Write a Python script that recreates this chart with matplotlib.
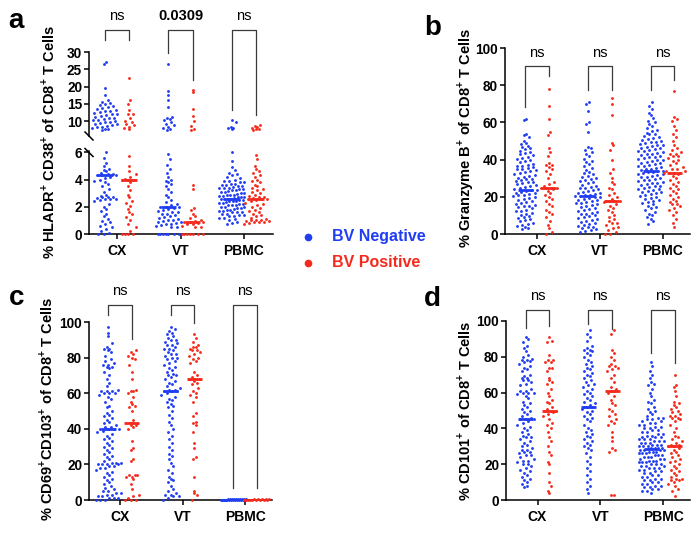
import numpy as np
import matplotlib
matplotlib.use("Agg")
import matplotlib.pyplot as plt
from matplotlib.lines import Line2D
from matplotlib.transforms import blended_transform_factory

plt.rcParams['font.family'] = ['Liberation Sans', 'DejaVu Sans']
plt.rcParams['font.weight'] = 'bold'
plt.rcParams['mathtext.fontset'] = 'custom'
plt.rcParams['mathtext.rm'] = 'Liberation Sans'
plt.rcParams['mathtext.bf'] = 'Liberation Sans:bold'

BLUE = '#1f3df2'
RED = '#f5291c'
GREY = '#3a3a3a'

sites = ['CX', 'VT', 'PBMC']

# ---- panel a: % HLADR+ CD38+ (broken axis) ----
a_cx_neg = [27.2, 26.4, 19.6, 17.5, 16.0, 15.6, 15.2, 14.9, 14.6, 14.3, 14.0, 13.8, 13.5, 13.3,
            13.0, 12.8, 12.6, 12.3, 12.1, 11.9, 11.6, 11.4, 11.2, 11.0, 10.8, 10.6, 10.4, 10.2,
            10.0, 9.8, 9.6, 9.4, 9.2, 9.0, 8.8, 8.6, 8.4, 8.2, 8.0, 7.8, 7.6, 7.4,
            6.0, 5.6, 5.2, 5.0, 4.8, 4.7, 4.6, 4.5, 4.4, 4.4, 4.35, 4.3, 4.3, 4.2, 4.1, 4.0,
            3.9, 3.8, 3.7, 3.5, 3.3, 3.1, 2.9, 2.8, 2.75, 2.7, 2.7, 2.65, 2.6, 2.6, 2.55, 2.5,
            2.4, 2.2, 2.0, 1.85, 1.7, 1.5, 1.3, 1.1, 0.95, 0.85, 0.75, 0.6, 0.5, 0.35, 0.2, 0.1,
            0.0, 0.0]
a_cx_pos = [22.4, 16.1, 15.0, 13.3, 12.1, 11.9, 11.0, 10.1, 9.6, 9.1, 8.7, 8.2, 7.9, 7.6,
            5.7, 5.0, 4.6, 4.4, 4.2, 4.05, 4.0, 4.0, 3.95, 3.8, 3.5, 3.2, 2.9, 2.7, 2.45, 2.25,
            2.05, 1.85, 1.65, 1.45, 1.25, 1.0, 0.75, 0.5, 0.25, 0.0, 0.0, 0.0, 0.0]
a_vt_neg = [26.5, 18.7, 17.4, 16.0, 14.0, 11.3, 10.9, 10.5, 10.2, 9.7, 9.2, 8.7, 8.3, 7.9, 7.6, 7.3,
            5.9, 5.5, 5.1, 4.8, 4.5, 4.2, 4.0, 3.9, 3.8, 3.7, 3.5, 3.3, 3.1, 2.9, 2.7, 2.5, 2.35,
            2.2, 2.1, 2.0, 2.0, 1.95, 1.9, 1.85, 1.8, 1.7, 1.65, 1.6, 1.5, 1.45, 1.4, 1.3, 1.25,
            1.2, 1.1, 1.05, 1.0, 0.95, 0.9, 0.85, 0.8, 0.75, 0.7, 0.65, 0.6, 0.55, 0.5,
            0.0, 0.0, 0.0, 0.0, 0.0, 0.0, 0.0]
a_vt_pos = [18.9, 18.5, 13.5, 11.5, 10.0, 8.6, 7.8, 7.3,
            3.6, 3.3, 1.9, 1.8, 1.5, 1.3, 1.2, 1.05, 0.95, 0.9, 0.85, 0.85, 0.8, 0.75, 0.7, 0.6,
            0.55, 0.5, 0.0, 0.0, 0.0, 0.0, 0.0, 0.0, 0.0]
a_pbmc_neg = [10.2, 9.7, 8.3, 8.1, 7.9, 7.7,
              6.0, 5.4, 4.9, 4.7, 4.5, 4.4, 4.3, 4.2, 4.1, 4.0, 3.9, 3.9, 3.8, 3.8, 3.7, 3.7,
              3.6, 3.6, 3.5, 3.5, 3.45, 3.4, 3.4, 3.35, 3.3, 3.3, 3.2, 3.2, 3.15, 3.1, 3.1, 3.0,
              3.0, 2.95, 2.9, 2.9, 2.85, 2.8, 2.8, 2.7, 2.7, 2.7, 2.65, 2.6, 2.6, 2.6, 2.55, 2.5,
              2.5, 2.45, 2.4, 2.4, 2.35, 2.3, 2.3, 2.2, 2.2, 2.15, 2.1, 2.1, 2.0, 2.0, 1.95, 1.9,
              1.9, 1.85, 1.8, 1.8, 1.7, 1.7, 1.65, 1.6, 1.6, 1.5, 1.5, 1.4, 1.4, 1.3, 1.3, 1.2,
              1.2, 1.1, 1.0, 0.9, 0.8, 0.7]
a_pbmc_pos = [8.9, 8.6, 8.3, 8.0, 7.8, 7.6, 7.4,
              5.8, 5.5, 5.0, 4.8, 4.6, 4.5, 4.3, 4.2, 4.0, 3.9, 3.8, 3.6, 3.5, 3.4, 3.3, 3.2,
              3.1, 3.0, 2.9, 2.8, 2.75, 2.7, 2.65, 2.6, 2.6, 2.55, 2.5, 2.4, 2.3, 2.2, 2.1, 2.0,
              1.9, 1.8, 1.7, 1.6, 1.5, 1.4, 1.3, 1.2, 1.1, 1.05, 1.0, 1.0, 0.95, 0.95, 0.9, 0.9,
              0.85, 0.8, 0.7]
a_med_neg = [4.35, 2.0, 2.6]
a_med_pos = [4.0, 0.85, 2.6]

# ---- panel b: % Granzyme B+ ----
b_cx_neg = [62, 61.5, 54, 53, 52, 50, 49, 48.5, 47.5, 47, 46, 45.5, 44.5, 44, 43.5, 43, 42.5,
            41.5, 41, 40.5, 40, 39, 38.5, 37.5, 37, 36.8, 36.3, 36, 35.5, 35.2, 34.8, 34.2, 33.7,
            33.2, 32.8, 32.4, 31.9, 31.4, 30.8, 30.3, 29.7, 29.4, 29, 28.6, 28.2, 27.7, 27.2,
            26.8, 26.2, 25.8, 25.3, 24.8, 24.4, 23.9, 23.5, 23.1, 22.7, 22.3, 22, 21.6, 21.2,
            20.7, 20.2, 19.8, 19.3, 18.8, 18.2, 17.7, 17.2, 16.8, 16.2, 15.8, 15.3, 14.9, 14.4,
            13.8, 13.1, 12.6, 12.1, 11.5, 10.9, 10.3, 9.6, 9.0, 8.5, 8.0, 7.4, 6.8, 6.1, 5.5,
            4.9, 4.2, 3.6, 3.0, 2.5]
b_cx_pos = [78, 69, 62, 55, 53, 46, 44, 42, 38, 37, 37, 36, 35, 34, 32, 30, 28, 27, 26, 25,
            25, 25, 25, 24, 23, 22, 21, 20, 19, 18, 16, 15, 13, 12, 11, 9, 7, 5, 3, 1, 0]
b_vt_neg = [71, 70, 66, 60, 59, 55, 47, 46, 45, 44, 43, 42, 40.5, 39.5, 38.5, 37.5, 36.5, 35.5,
            34.5, 33.5, 32.8, 32, 31.4, 30.8, 30.2, 29.6, 29, 28.4, 27.8, 27.2, 26.6, 26, 25.5,
            25, 24.5, 24, 23.5, 23, 22.6, 22.2, 21.8, 21.4, 21, 20.8, 20.5, 20.3, 20, 19.7, 19.3,
            18.9, 18.5, 18.1, 17.7, 17.3, 16.9, 16.4, 16, 15.5, 15, 14.5, 14, 13.5, 13, 12.5, 12,
            11.5, 11, 10.5, 10, 9.5, 9, 8.5, 8, 7.5, 7, 6.5, 6, 5.5, 5, 4.5, 4, 3.5, 3, 2.5, 2,
            1.5, 1.2]
b_vt_pos = [73, 70, 64, 49, 48, 45, 40, 35, 33, 30, 28, 27, 25, 24, 22, 21, 20, 19, 18, 18,
            18, 18, 17, 16, 15, 14, 13, 12, 10, 9, 8, 7, 6, 6, 5, 4, 3, 2, 1, 0, 0]
b_pbmc_neg = [71, 69, 67, 65, 64, 62.5, 61, 60, 59, 58, 57, 56, 55.5, 54.5, 54, 53.5, 52.5,
              52, 51.5, 51, 50.5, 50, 49.6, 49.2, 48.8, 48.4, 48, 47.6, 47.2, 46.8, 46.4, 46,
              45.6, 45.2, 44.8, 44.4, 44, 43.6, 43.2, 42.8, 42.4, 42, 41.6, 41.2, 40.8, 40.4,
              40, 39.6, 39.2, 38.8, 38.4, 38, 37.6, 37.2, 36.8, 36.4, 36, 35.6, 35.2, 34.8,
              34.4, 34, 33.8, 33.5, 33.2, 32.8, 32.4, 32, 31.6, 31.2, 30.8, 30.4, 30, 29.6, 29.2,
              28.8, 28.4, 28, 27.6, 27.2, 26.8, 26.4, 26, 25.6, 25.2, 24.8, 24.4, 24, 23.6, 23.2,
              22.8, 22.4, 22, 21.5, 21, 20.5, 20, 19.5, 19, 18.5, 18, 17.3, 16.6, 16, 15.3, 14.6,
              14, 13, 12, 11, 10, 9, 8, 7, 5.5]
b_pbmc_pos = [77, 63, 62, 61, 58, 56, 54, 52, 50, 48, 46, 45, 44, 43, 43, 42, 42, 41, 40, 39,
              38, 37, 36, 35, 35, 34, 34, 33, 33, 33, 33, 32, 31, 30, 29, 28, 27, 26, 25, 24,
              23, 22, 21, 20, 19, 18, 17, 16, 16, 15, 14, 13, 12, 10, 8, 6, 4]
b_med_neg = [23.6, 20.5, 33.8]
b_med_pos = [24.8, 17.8, 33.0]

# ---- panel c: % CD69+CD103+ ----
c_cx_neg = [97, 94, 92, 88, 86, 85, 85, 84, 83, 81, 79, 78, 77, 76, 76, 75, 75, 74, 72, 70,
            68, 66, 64, 62, 61, 61, 61, 60, 60, 60, 59, 58, 57, 55, 53, 52, 50, 49, 48, 47, 46,
            45, 44, 43, 42, 41, 41, 40, 40, 40, 40, 39, 38, 37, 36, 35, 34, 33, 32, 31, 30, 29,
            28, 27, 26, 25, 24, 23, 22, 21, 21, 21, 20, 20, 20, 20, 19, 19, 18, 18, 17, 16, 15,
            14, 13, 12, 11, 10, 9, 8, 7, 6, 5, 5, 4, 4, 3, 3, 2, 2, 1, 1, 1, 0, 0, 0]
c_cx_pos = [84, 83, 82, 81, 80, 79, 76, 72, 68, 62, 61, 61, 60, 58, 55, 54, 53, 52, 50, 45,
            43, 42, 42, 41, 40, 33, 29, 28, 23, 22, 14, 14, 14, 13, 13, 12, 9, 6, 3, 2, 1, 0,
            0, 0]
c_vt_neg = [97, 96, 95, 94, 93, 92, 91, 90, 90, 89, 88, 87, 87, 86, 85, 85, 84, 83, 82, 82,
            81, 80, 80, 79, 78, 77, 76, 75, 74, 73, 72, 71, 70, 70, 69, 68, 67, 66, 65, 64, 63,
            62, 62, 61.5, 61, 61, 60, 59, 58, 57, 56, 55, 54, 53, 52, 50, 48, 46, 44, 42, 40,
            38, 36, 34, 32, 30, 28, 26, 25, 23, 21, 19, 17, 15, 13, 12, 11, 10, 8, 6, 5, 4, 3,
            3, 2, 2, 1, 0]
c_vt_pos = [93, 91, 89, 87, 86, 86, 85, 84, 84, 83, 82, 81, 80, 79, 78, 77, 72, 70, 69, 68,
            68, 68, 67, 66, 65, 63, 61, 60, 59, 58, 55, 49, 47, 44, 43, 42, 38, 32, 29, 24, 23,
            13, 5, 4, 3, 0]
c_pbmc_neg = [0.6, 0.5, 0.5, 0.4, 0.4, 0.4, 0.3, 0.3, 0.3, 0.3, 0.2, 0.2, 0.2, 0.2, 0.2, 0.1,
              0.1, 0.1, 0.1, 0.1, 0.1, 0.0, 0.0, 0.0, 0.0, 0.0]
c_pbmc_pos = [0.5, 0.4, 0.4, 0.3, 0.3, 0.2, 0.2, 0.2, 0.1, 0.1, 0.1, 0.0, 0.0, 0.0]
c_med_neg = [40.0, 61.5, 0.2]
c_med_pos = [43.0, 68.0, 0.2]

# ---- panel d: % CD101+ ----
d_cx_neg = [91, 90, 88, 86, 85, 83, 81, 80, 79, 78, 78, 77.5, 77, 76, 75, 74, 73, 72, 70, 69,
            68, 68, 67, 67, 66, 65, 64, 62, 61, 61, 60, 60, 60, 59, 58, 57, 55, 54, 53, 52, 51,
            50, 49, 48, 47, 46, 45, 45, 45, 44, 43, 42, 41, 40, 39, 38, 37, 36, 35, 35, 34, 33,
            32, 31, 30, 29, 28, 28, 27, 27, 26, 25, 25, 24, 23, 22, 22, 21, 20, 20, 19, 18, 17,
            16, 15, 14, 13, 12, 11, 10, 9, 8, 7]
d_cx_pos = [91, 89, 88, 81, 78, 78, 77, 77, 74, 74, 72, 68, 67, 66, 65, 62, 60, 58, 56, 55,
            54, 52, 51, 50, 50, 50, 49, 48, 47, 45, 43, 42, 40, 38, 35, 33, 30, 27, 25, 21, 20,
            15, 10, 8, 5, 4]
d_vt_neg = [95, 93, 91, 89, 86, 85, 84, 84, 83, 82, 81, 80, 78, 77, 76, 75, 74, 73, 72, 71,
            70, 69, 68, 67, 66, 65, 64, 63, 62, 61, 60, 59, 58, 57, 56, 55, 54, 53, 52, 52, 52,
            51, 50, 49, 48, 47, 46, 45, 44, 42, 40, 39, 38, 37, 36, 35, 34, 33, 32, 31, 30, 29,
            28, 26, 24, 22, 20, 18, 16, 14, 12, 10, 8, 6, 4]
d_vt_pos = [95, 93, 84, 82, 80, 78, 76, 75, 75, 74, 73, 72, 70, 68, 66, 63, 62, 61, 61, 60,
            58, 56, 54, 53, 51, 50, 48, 47, 45, 44, 43, 42, 38, 35, 33, 29, 28, 27, 3, 3]
d_pbmc_neg = [77, 75, 72, 70, 68, 66, 65, 64, 62, 60, 58, 56, 55, 54, 52, 51, 50, 49, 48, 47,
              46, 46, 45, 45, 44, 44, 43, 43, 42, 42, 41, 41, 40, 40, 39, 39, 38, 38, 37, 37,
              36, 36, 35, 35, 35, 34, 34, 34, 33, 33, 33, 32, 32, 32, 31, 31, 31, 30, 30, 30,
              29, 29, 29, 29, 28.5, 28, 28, 28, 28, 27, 27, 27, 26, 26, 26, 25, 25, 25, 24, 24,
              24, 23, 23, 23, 22, 22, 22, 21, 21, 21, 20, 20, 20, 19, 19, 19, 18, 18, 18, 17,
              17, 16, 16, 15, 15, 14, 14, 13, 13, 12, 12, 11, 11, 10, 10, 9, 9, 8, 8, 7, 7, 6,
              6, 5, 5, 4]
d_pbmc_pos = [70, 64, 63, 61, 58, 55, 54, 53, 52, 51, 50, 49, 48, 47, 47, 46, 46, 45, 44, 42,
              40, 38, 36, 35, 34, 33, 32, 31, 30.5, 30, 30, 29, 28, 27, 26, 25, 24, 23, 22, 21,
              20, 19, 18, 17, 16, 15, 14, 13, 12, 12, 11, 11, 10, 9, 8, 6, 5, 2]
d_med_neg = [45.2, 52.0, 28.7]
d_med_pos = [50.0, 60.8, 30.3]

W, H = 700, 536
fig = plt.figure(figsize=(W / 100, H / 100), dpi=100)
OFF = 0.19


def px_axes(x0, y0, x1, y1):
    return fig.add_axes([x0 / W, 1 - y1 / H, (x1 - x0) / W, (y1 - y0) / H])


def fy(p):
    return 1 - p / H


def style(ax, xlim, ylim, yticks, bottom=True):
    ax.set_xlim(*xlim)
    ax.set_ylim(*ylim)
    ax.set_yticks(yticks)
    ax.patch.set_alpha(0)
    for s in ['top', 'right']:
        ax.spines[s].set_visible(False)
    for s in ['left', 'bottom']:
        ax.spines[s].set_linewidth(1.1)
    ax.tick_params(axis='y', width=1.1, length=3.5, labelsize=9.8, pad=1.5)
    if bottom:
        ax.set_xticks(range(3))
        ax.set_xticklabels(sites)
        ax.tick_params(axis='x', width=1.1, length=3.5, labelsize=10, pad=4)
    else:
        ax.spines['bottom'].set_visible(False)
        ax.set_xticks([])


def swarm(ax, xc, vals, color, lo, hi, pitch=2.7, row=7.5, cap=12.5):
    v = np.array([y for y in vals if lo <= y <= hi], dtype=float)
    if len(v) == 0:
        return
    x0, x1 = ax.get_xlim()
    y0, y1 = ax.get_ylim()
    sx = ax.bbox.width / (x1 - x0)
    sy = ax.bbox.height / (y1 - y0)
    bins = np.floor((v - y0) * sy / row).astype(int)
    xs = np.full(len(v), float(xc))
    for b in np.unique(bins):
        idx = np.where(bins == b)[0]
        idx = idx[np.argsort(v[idx])]
        n = len(idx)
        step = pitch if n < 2 else min(pitch, 2 * cap / (n - 1))
        slots = (np.arange(n) - (n - 1) / 2) * step
        order = list(range(0, n, 2)) + list(range(1, n, 2))
        for k, j in zip(order, idx):
            xs[j] = xc + slots[k] / sx
    ax.scatter(xs, v, s=4.2, color=color, linewidths=0, clip_on=False, zorder=3)


def medians(ax, meds, sign, color):
    for i, m in enumerate(meds):
        xc = i + sign * OFF
        ax.plot([xc - 0.12, xc + 0.12], [m, m], color=color, lw=2.0,
                solid_capstyle='butt', zorder=4)


def brackets(ax, top, legs, base, labels):
    tr = blended_transform_factory(ax.transData, fig.transFigure)
    for i, ((l, r), lab) in enumerate(zip(legs, labels)):
        ax.plot([i - OFF, i - OFF, i + OFF, i + OFF], [fy(l), fy(top), fy(top), fy(r)],
                transform=tr, color=GREY, lw=0.9, clip_on=False)
        ax.text(i, fy(base), lab, transform=tr, ha='center', va='baseline', fontsize=10.5,
                fontweight='normal' if lab == 'ns' else 'bold')


def panel(ax, neg, pos, mneg, mpos, lo=-1e9, hi=1e9):
    for i, (vn, vp) in enumerate(zip(neg, pos)):
        swarm(ax, i - OFF, vn, BLUE, lo, hi)
        swarm(ax, i + OFF, vp, RED, lo, hi)
    if mneg is not None:
        medians(ax, mneg, -1, BLUE)
        medians(ax, mpos, +1, RED)


# ---- a ----
xa = ((89 - 117) / 63.5, (273 - 117) / 63.5)
a_up = px_axes(89, 52, 273, 136)
a_lo = px_axes(89, 151, 273, 234)
style(a_up, xa, (30 - 84 / 3.45, 30), [10, 15, 20, 25, 30], bottom=False)
style(a_lo, xa, (0, 6.1), [0, 2, 4, 6])
a_neg = [a_cx_neg, a_vt_neg, a_pbmc_neg]
a_pos = [a_cx_pos, a_vt_pos, a_pbmc_pos]
panel(a_up, a_neg, a_pos, None, None, lo=6.2, hi=30)
panel(a_lo, a_neg, a_pos, a_med_neg, a_med_pos, lo=0, hi=6.1)
brackets(a_up, 30, [(40, 40), (53, 80), (110, 115)], 20, ['ns', '0.0309', 'ns'])
for yb in (136, 152.5):
    fig.add_artist(Line2D([85 / W, 93 / W], [fy(yb - 4), fy(yb + 4)], color='black', lw=1.1))

# ---- b ----
b_ax = px_axes(505, 48, 690, 234)
style(b_ax, ((505 - 537) / 62.75, (690 - 537) / 62.75), (0, 100), range(0, 101, 20))
panel(b_ax, [b_cx_neg, b_vt_neg, b_pbmc_neg], [b_cx_pos, b_vt_pos, b_pbmc_pos], b_med_neg, b_med_pos)
brackets(b_ax, 66, [(107, 76), (90, 90), (90, 80)], 57, ['ns', 'ns', 'ns'])

# ---- c ----
c_ax = px_axes(89, 322, 272, 500)
style(c_ax, ((89 - 120) / 62.5, (272 - 120) / 62.5), (0, 100), range(0, 101, 20))
panel(c_ax, [c_cx_neg, c_vt_neg, c_pbmc_neg], [c_cx_pos, c_vt_pos, c_pbmc_pos], c_med_neg, c_med_pos)
brackets(c_ax, 305, [(315, 339), (315, 323), (488, 488)], 295, ['ns', 'ns', 'ns'])

# ---- d ----
d_ax = px_axes(506, 321, 690, 500)
style(d_ax, ((506 - 537.5) / 62.75, (690 - 537.5) / 62.75), (0, 100), range(0, 101, 20))
panel(d_ax, [d_cx_neg, d_vt_neg, d_pbmc_neg], [d_cx_pos, d_vt_pos, d_pbmc_pos], d_med_neg, d_med_pos)
brackets(d_ax, 310, [(328, 326), (324, 329), (353, 363)], 300, ['ns', 'ns', 'ns'])

# y labels
ylabels = [(48, 142, r'% HLADR$^\mathbf{+}$ CD38$^\mathbf{+}$ of CD8$^\mathbf{+}$ T Cells'),
           (465, 138, r'% Granzyme B$^\mathbf{+}$ of CD8$^\mathbf{+}$ T Cells'),
           (46, 409, r'% CD69$^\mathbf{+}$CD103$^\mathbf{+}$ of CD8$^\mathbf{+}$ T Cells'),
           (464, 411, r'% CD101$^\mathbf{+}$ of CD8$^\mathbf{+}$ T Cells')]
for x, y, t in ylabels:
    fig.text(x / W, fy(y), t, rotation=90, ha='center', va='center', fontsize=10.5)

# panel letters
for x, y, t in [(16, 28, 'a'), (433, 35, 'b'), (17, 305, 'c'), (432, 306, 'd')]:
    fig.text(x / W, fy(y), t, ha='center', va='baseline', fontsize=20, fontweight='bold')

# legend
for y, txt, col in [(237, 'BV Negative', BLUE), (263, 'BV Positive', RED)]:
    fig.add_artist(Line2D([308 / W], [fy(y)], marker='o', markersize=4.5, color=col, lw=0))
    fig.text(332 / W, fy(y + 4), txt, color=col, fontsize=11.5, fontweight='bold', va='baseline')

fig.savefig('out.png', dpi=100)
